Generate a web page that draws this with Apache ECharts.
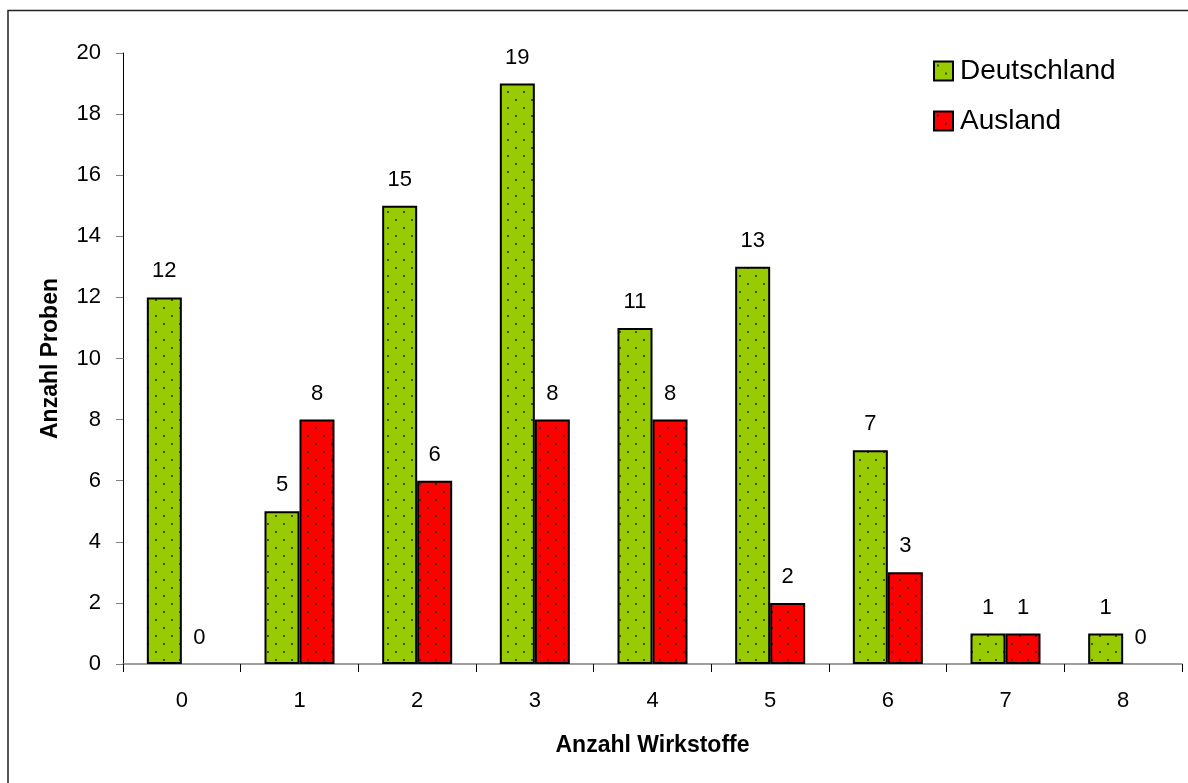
<!DOCTYPE html>
<html>
<head>
<meta charset="utf-8">
<script src="https://cdn.jsdelivr.net/npm/echarts@6/dist/echarts.min.js"></script>
<style>
html,body{margin:0;padding:0;background:#fff;}
#c{width:1188px;height:783px;}
</style>
</head>
<body>
<div id="c"></div>
<script>
var categories = ['0','1','2','3','4','5','6','7','8'];
var deutschland = [12,5,15,19,11,13,7,1,1];
var ausland = [0,8,6,8,8,2,3,1,0];
var seriesNames = ['Deutschland','Ausland'];
var yTitle = 'Anzahl Proben';
var xTitle = 'Anzahl Wirkstoffe';

function makePattern(fill){
  var cv = document.createElement('canvas');
  cv.width = 16; cv.height = 16;
  var ctx = cv.getContext('2d');
  ctx.fillStyle = fill;
  ctx.fillRect(0,0,16,16);
  ctx.fillStyle = '#222';
  ctx.beginPath(); ctx.arc(4,4,1,0,Math.PI*2); ctx.fill();
  ctx.beginPath(); ctx.arc(12,12,1,0,Math.PI*2); ctx.fill();
  return {image: cv, repeat: 'repeat'};
}
function toData(arr){
  return arr.map(function(v){
    return v === 0 ? {value: v, itemStyle: {borderWidth: 0}} : v;
  });
}
var font = 'Liberation Sans, Arial, sans-serif';
var chart = echarts.init(document.getElementById('c'), null, {renderer:'canvas'});
var labelCfg = {show:true, position:'top', distance:15, fontSize:22, color:'#000', fontFamily:font};
chart.setOption({
  animation:false,
  backgroundColor:'#fff',
  graphic:[{type:'rect', shape:{x:8,y:10.5,width:1300,height:900}, style:{fill:'none', stroke:'#222', lineWidth:1.5}, silent:true, z:-1}],
  grid:{left:123, right:6, top:53, bottom:119},
  legend:{
    orient:'vertical', left:928, top:52, itemWidth:19, itemHeight:19, itemGap:22, icon:'rect',
    textStyle:{fontSize:28, color:'#000', fontFamily:font, padding:[0,0,0,2]},
    data:seriesNames
  },
  xAxis:{
    type:'category', data:categories,
    axisLine:{lineStyle:{color:'#808080', width:1.5}},
    axisTick:{show:true, length:8, lineStyle:{color:'#000'}},
    axisLabel:{fontSize:22, color:'#000', margin:26, fontFamily:font},
    name:xTitle, nameLocation:'middle', nameGap:70,
    nameTextStyle:{fontSize:23, fontWeight:'bold', color:'#000', fontFamily:font}
  },
  yAxis:{
    type:'value', min:0, max:20, interval:2,
    axisLine:{show:true, lineStyle:{color:'#000', width:1}},
    axisTick:{show:true, length:7, lineStyle:{color:'#808080'}},
    axisLabel:{fontSize:22, color:'#000', margin:22, fontFamily:font},
    splitLine:{show:false},
    name:yTitle, nameLocation:'middle', nameGap:61,
    nameTextStyle:{fontSize:23, fontWeight:'bold', color:'#000', fontFamily:font}
  },
  series:[
    {name:seriesNames[0], type:'bar', data:toData(deutschland), barWidth:35, barGap:'0%',
     itemStyle:{color:makePattern('#99cc00'), borderColor:'#000', borderWidth:2},
     label:labelCfg},
    {name:seriesNames[1], type:'bar', data:toData(ausland), barWidth:35, barGap:'0%',
     itemStyle:{color:makePattern('#ff0000'), borderColor:'#000', borderWidth:2},
     label:labelCfg}
  ]
});
</script>
</body>
</html>
